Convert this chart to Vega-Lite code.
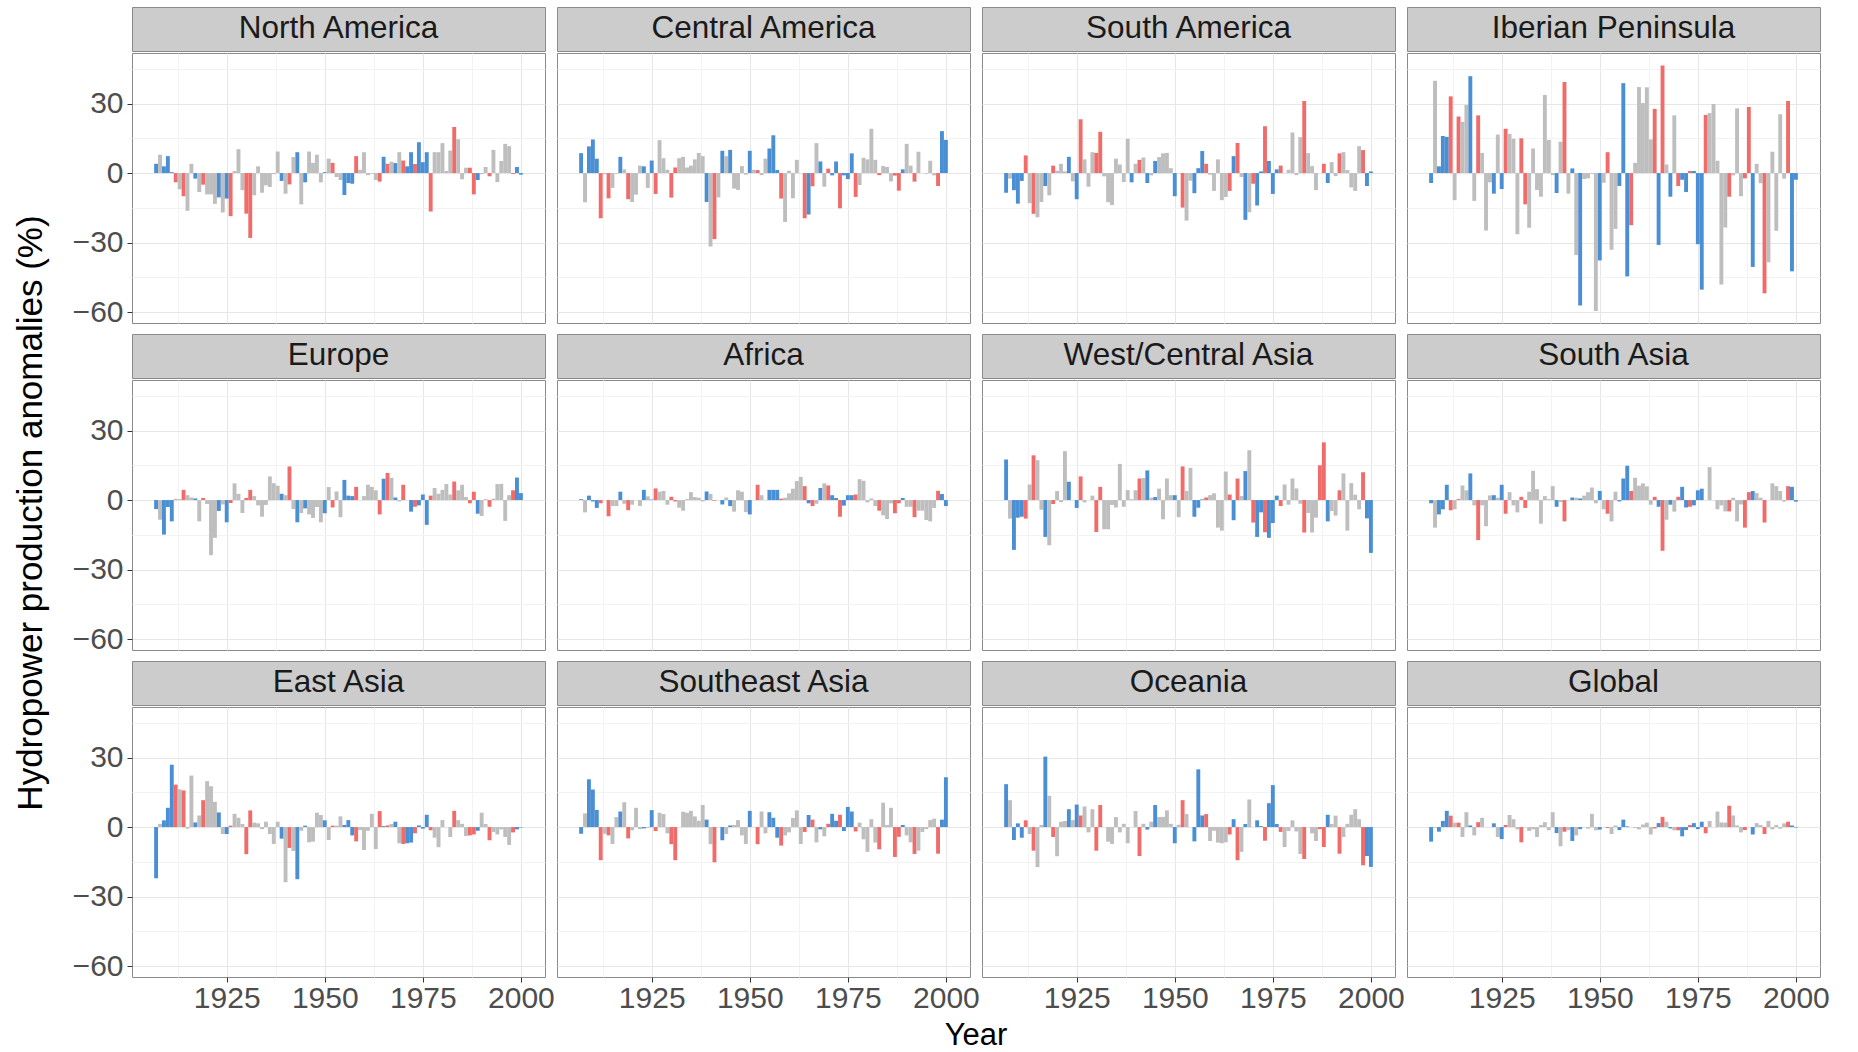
{
"$schema":"https://vega.github.io/schema/vega-lite/v6.json",
"padding":{"left":12,"top":6,"right":5,"bottom":0},
"background":"white",
"config":{
 "font":"Liberation Sans",
 "view":{"stroke":"#8a8a8a","strokeWidth":1},
 "bar":{"continuousBandSize":3.9},
 "axis":{"domain":false,"gridWidth":1,"tickColor":"#333333","tickSize":5,"tickWidth":1,"labelFont":"Liberation Sans","labelFontSize":30,"labelColor":"#4d4d4d","labelPadding":4,"titleFont":"Liberation Sans","titleFontSize":35,"titleFontWeight":"normal","titleColor":"#000000"},
 "axisX":{"labelPadding":1}
},
"datasets":{
"enso":[
{"year":1907,"phase":"La Niña"},{"year":1909,"phase":"La Niña"},{"year":1910,"phase":"La Niña"},{"year":1911,"phase":"La Niña"},{"year":1917,"phase":"La Niña"},{"year":1923,"phase":"La Niña"},{"year":1925,"phase":"La Niña"},{"year":1939,"phase":"La Niña"},{"year":1943,"phase":"La Niña"},{"year":1945,"phase":"La Niña"},{"year":1950,"phase":"La Niña"},{"year":1955,"phase":"La Niña"},{"year":1956,"phase":"La Niña"},{"year":1957,"phase":"La Niña"},{"year":1965,"phase":"La Niña"},{"year":1968,"phase":"La Niña"},{"year":1971,"phase":"La Niña"},{"year":1972,"phase":"La Niña"},{"year":1974,"phase":"La Niña"},{"year":1975,"phase":"La Niña"},{"year":1976,"phase":"La Niña"},{"year":1989,"phase":"La Niña"},{"year":1999,"phase":"La Niña"},{"year":2000,"phase":"La Niña"},
{"year":1912,"phase":"El Niño"},{"year":1914,"phase":"El Niño"},{"year":1919,"phase":"El Niño"},{"year":1926,"phase":"El Niño"},{"year":1930,"phase":"El Niño"},{"year":1931,"phase":"El Niño"},{"year":1941,"phase":"El Niño"},{"year":1952,"phase":"El Niño"},{"year":1958,"phase":"El Niño"},{"year":1964,"phase":"El Niño"},{"year":1966,"phase":"El Niño"},{"year":1970,"phase":"El Niño"},{"year":1973,"phase":"El Niño"},{"year":1977,"phase":"El Niño"},{"year":1983,"phase":"El Niño"},{"year":1987,"phase":"El Niño"},{"year":1988,"phase":"El Niño"},{"year":1992,"phase":"El Niño"},{"year":1998,"phase":"El Niño"}
],
"NA":[
{"year":1907,"value":4.0},{"year":1908,"value":7.9},{"year":1909,"value":2.9},{"year":1910,"value":7.3},{"year":1911,"value":0.4},{"year":1912,"value":-4.0},{"year":1913,"value":-7.0},{"year":1914,"value":-10.0},{"year":1915,"value":-16.3},{"year":1916,"value":4.0},
{"year":1917,"value":-2.4},{"year":1918,"value":-8.2},{"year":1919,"value":-5.0},{"year":1920,"value":-9.2},{"year":1921,"value":-9.2},{"year":1922,"value":-13.3},{"year":1923,"value":-10.5},{"year":1924,"value":-17.0},{"year":1925,"value":-11.0},{"year":1926,"value":-18.6},
{"year":1927,"value":0.9},{"year":1928,"value":10.3},{"year":1929,"value":-7.4},{"year":1930,"value":-17.5},{"year":1931,"value":-28.0},{"year":1932,"value":-9.6},{"year":1933,"value":2.9},{"year":1934,"value":-8.5},{"year":1935,"value":-5.3},{"year":1936,"value":-6.0},
{"year":1937,"value":-0.5},{"year":1938,"value":9.3},{"year":1939,"value":-3.4},{"year":1940,"value":-8.9},{"year":1941,"value":-4.9},{"year":1942,"value":6.9},{"year":1943,"value":9.0},{"year":1944,"value":-13.5},{"year":1945,"value":-4.0},{"year":1946,"value":9.3},
{"year":1947,"value":4.4},{"year":1948,"value":7.9},{"year":1949,"value":-4.0},{"year":1950,"value":0.4},{"year":1951,"value":6.2},{"year":1952,"value":4.4},{"year":1953,"value":-1.7},{"year":1954,"value":-3.0},{"year":1955,"value":-9.5},{"year":1956,"value":-4.3},
{"year":1957,"value":-4.6},{"year":1958,"value":7.3},{"year":1959,"value":1.4},{"year":1960,"value":9.0},{"year":1961,"value":-0.9},{"year":1962,"value":-0.3},{"year":1963,"value":-3.0},{"year":1964,"value":-3.7},{"year":1965,"value":7.0},{"year":1966,"value":4.0},
{"year":1967,"value":4.9},{"year":1968,"value":4.3},{"year":1969,"value":9.0},{"year":1970,"value":5.4},{"year":1971,"value":2.9},{"year":1972,"value":9.0},{"year":1973,"value":3.9},{"year":1974,"value":13.3},{"year":1975,"value":4.7},{"year":1976,"value":9.0},
{"year":1977,"value":-16.6},{"year":1978,"value":9.0},{"year":1979,"value":9.0},{"year":1980,"value":12.9},{"year":1981,"value":0.9},{"year":1982,"value":9.7},{"year":1983,"value":19.9},{"year":1984,"value":14.6},{"year":1985,"value":-2.7},{"year":1986,"value":2.3},
{"year":1987,"value":2.3},{"year":1988,"value":-9.2},{"year":1989,"value":-3.0},{"year":1990,"value":-0.5},{"year":1991,"value":2.6},{"year":1992,"value":-1.4},{"year":1993,"value":10.0},{"year":1994,"value":-3.9},{"year":1995,"value":5.2},{"year":1996,"value":12.6},
{"year":1997,"value":11.6},{"year":1998,"value":-0.4},{"year":1999,"value":2.6},{"year":2000,"value":-0.7}
],
"CA":[
{"year":1907,"value":8.6},{"year":1908,"value":-12.6},{"year":1909,"value":11.5},{"year":1910,"value":14.5},{"year":1911,"value":6.2},{"year":1912,"value":-19.5},{"year":1913,"value":-0.5},{"year":1914,"value":-10.9},{"year":1915,"value":-6.4},{"year":1916,"value":-0.3},
{"year":1917,"value":7.0},{"year":1918,"value":1.6},{"year":1919,"value":-11.3},{"year":1920,"value":-12.5},{"year":1921,"value":-9.3},{"year":1922,"value":3.2},{"year":1923,"value":2.9},{"year":1924,"value":-6.4},{"year":1925,"value":5.4},{"year":1926,"value":-9.0},
{"year":1927,"value":14.2},{"year":1928,"value":6.4},{"year":1929,"value":1.4},{"year":1930,"value":-10.6},{"year":1931,"value":2.4},{"year":1932,"value":6.4},{"year":1933,"value":7.0},{"year":1934,"value":2.4},{"year":1935,"value":3.2},{"year":1936,"value":5.9},
{"year":1937,"value":8.7},{"year":1938,"value":7.3},{"year":1939,"value":-12.5},{"year":1940,"value":-31.7},{"year":1941,"value":-28.5},{"year":1942,"value":-10.5},{"year":1943,"value":9.6},{"year":1944,"value":7.3},{"year":1945,"value":10.0},{"year":1946,"value":-6.7},
{"year":1947,"value":-7.3},{"year":1948,"value":3.0},{"year":1949,"value":-0.7},{"year":1950,"value":9.6},{"year":1951,"value":1.4},{"year":1952,"value":1.3},{"year":1953,"value":-0.9},{"year":1954,"value":6.2},{"year":1955,"value":10.6},{"year":1956,"value":16.3},
{"year":1957,"value":1.3},{"year":1958,"value":-11.0},{"year":1959,"value":-21.1},{"year":1960,"value":1.0},{"year":1961,"value":-10.9},{"year":1962,"value":5.7},{"year":1963,"value":0.0},{"year":1964,"value":-19.5},{"year":1965,"value":-17.9},{"year":1966,"value":-5.7},
{"year":1967,"value":12.9},{"year":1968,"value":5.0},{"year":1969,"value":-5.9},{"year":1970,"value":1.9},{"year":1971,"value":-1.0},{"year":1972,"value":5.0},{"year":1973,"value":-15.2},{"year":1974,"value":-1.0},{"year":1975,"value":-2.6},{"year":1976,"value":8.5},
{"year":1977,"value":-10.3},{"year":1978,"value":-5.2},{"year":1979,"value":6.6},{"year":1980,"value":5.9},{"year":1981,"value":19.1},{"year":1982,"value":5.7},{"year":1983,"value":-0.9},{"year":1984,"value":3.0},{"year":1985,"value":2.6},{"year":1986,"value":-3.6},
{"year":1987,"value":-1.1},{"year":1988,"value":-7.6},{"year":1989,"value":1.6},{"year":1990,"value":12.6},{"year":1991,"value":3.2},{"year":1992,"value":-3.7},{"year":1993,"value":9.2},{"year":1994,"value":0.0},{"year":1995,"value":-0.3},{"year":1996,"value":5.3},
{"year":1997,"value":-1.0},{"year":1998,"value":-5.6},{"year":1999,"value":18.1},{"year":2000,"value":14.3}
],
"SA":[
{"year":1907,"value":-8.5},{"year":1908,"value":-2.4},{"year":1909,"value":-7.4},{"year":1910,"value":-13.2},{"year":1911,"value":-3.4},{"year":1912,"value":7.6},{"year":1913,"value":-13.0},{"year":1914,"value":-17.6},{"year":1915,"value":-19.1},{"year":1916,"value":-12.5},
{"year":1917,"value":-5.6},{"year":1918,"value":-9.6},{"year":1919,"value":3.2},{"year":1920,"value":1.0},{"year":1921,"value":4.0},{"year":1922,"value":0.7},{"year":1923,"value":7.0},{"year":1924,"value":-3.6},{"year":1925,"value":-11.3},{"year":1926,"value":23.2},
{"year":1927,"value":5.9},{"year":1928,"value":-5.9},{"year":1929,"value":9.0},{"year":1930,"value":8.7},{"year":1931,"value":17.8},{"year":1932,"value":-1.4},{"year":1933,"value":-12.6},{"year":1934,"value":-13.8},{"year":1935,"value":6.2},{"year":1936,"value":3.7},
{"year":1937,"value":-3.9},{"year":1938,"value":14.8},{"year":1939,"value":-4.0},{"year":1940,"value":4.0},{"year":1941,"value":5.7},{"year":1942,"value":6.7},{"year":1943,"value":-4.3},{"year":1944,"value":-1.0},{"year":1945,"value":5.2},{"year":1946,"value":6.9},
{"year":1947,"value":8.5},{"year":1948,"value":8.7},{"year":1949,"value":2.1},{"year":1950,"value":-10.0},{"year":1951,"value":0.0},{"year":1952,"value":-14.9},{"year":1953,"value":-20.5},{"year":1954,"value":-3.3},{"year":1955,"value":-8.7},{"year":1956,"value":2.1},
{"year":1957,"value":9.5},{"year":1958,"value":4.0},{"year":1959,"value":-0.7},{"year":1960,"value":-7.7},{"year":1961,"value":5.9},{"year":1962,"value":-11.7},{"year":1963,"value":-10.3},{"year":1964,"value":-7.7},{"year":1965,"value":7.3},{"year":1966,"value":13.0},
{"year":1967,"value":-1.7},{"year":1968,"value":-20.2},{"year":1969,"value":-16.9},{"year":1970,"value":-4.6},{"year":1971,"value":-14.0},{"year":1972,"value":0.7},{"year":1973,"value":20.2},{"year":1974,"value":5.2},{"year":1975,"value":-9.0},{"year":1976,"value":1.6},
{"year":1977,"value":3.2},{"year":1978,"value":0.0},{"year":1979,"value":1.4},{"year":1980,"value":17.5},{"year":1981,"value":-0.9},{"year":1982,"value":15.5},{"year":1983,"value":31.1},{"year":1984,"value":8.6},{"year":1985,"value":3.0},{"year":1986,"value":-7.4},
{"year":1987,"value":0.0},{"year":1988,"value":4.0},{"year":1989,"value":-4.3},{"year":1990,"value":4.7},{"year":1991,"value":-1.3},{"year":1992,"value":8.5},{"year":1993,"value":9.0},{"year":1994,"value":1.3},{"year":1995,"value":-6.2},{"year":1996,"value":-7.7},
{"year":1997,"value":11.6},{"year":1998,"value":9.9},{"year":1999,"value":-5.6},{"year":2000,"value":0.7}
],
"IP":[
{"year":1907,"value":-4.3},{"year":1908,"value":39.8},{"year":1909,"value":2.9},{"year":1910,"value":16.0},{"year":1911,"value":15.6},{"year":1912,"value":33.1},{"year":1913,"value":-11.7},{"year":1914,"value":24.4},{"year":1915,"value":22.1},{"year":1916,"value":29.4},
{"year":1917,"value":41.8},{"year":1918,"value":-12.0},{"year":1919,"value":24.9},{"year":1920,"value":8.7},{"year":1921,"value":-24.8},{"year":1922,"value":-4.0},{"year":1923,"value":-8.9},{"year":1924,"value":16.6},{"year":1925,"value":-6.9},{"year":1926,"value":19.1},
{"year":1927,"value":16.9},{"year":1928,"value":14.8},{"year":1929,"value":-26.4},{"year":1930,"value":15.0},{"year":1931,"value":-13.5},{"year":1932,"value":-23.6},{"year":1933,"value":10.6},{"year":1934,"value":-7.3},{"year":1935,"value":-10.2},{"year":1936,"value":33.7},
{"year":1937,"value":14.3},{"year":1938,"value":-0.9},{"year":1939,"value":-8.6},{"year":1940,"value":13.5},{"year":1941,"value":39.3},{"year":1942,"value":-8.9},{"year":1943,"value":2.0},{"year":1944,"value":-35.4},{"year":1945,"value":-57.2},{"year":1946,"value":-2.6},
{"year":1947,"value":-2.3},{"year":1948,"value":-0.3},{"year":1949,"value":-59.5},{"year":1950,"value":-37.7},{"year":1951,"value":-4.2},{"year":1952,"value":9.0},{"year":1953,"value":-33.1},{"year":1954,"value":-24.1},{"year":1955,"value":-5.6},{"year":1956,"value":38.8},
{"year":1957,"value":-44.6},{"year":1958,"value":-22.5},{"year":1959,"value":4.4},{"year":1960,"value":37.1},{"year":1961,"value":30.2},{"year":1962,"value":37.0},{"year":1963,"value":14.5},{"year":1964,"value":27.7},{"year":1965,"value":-31.0},{"year":1966,"value":46.4},
{"year":1967,"value":3.7},{"year":1968,"value":-10.2},{"year":1969,"value":24.9},{"year":1970,"value":-5.6},{"year":1971,"value":-2.9},{"year":1972,"value":-8.2},{"year":1973,"value":0.9},{"year":1974,"value":0.9},{"year":1975,"value":-30.7},{"year":1976,"value":-50.3},
{"year":1977,"value":25.1},{"year":1978,"value":25.9},{"year":1979,"value":29.8},{"year":1980,"value":5.3},{"year":1981,"value":-48.1},{"year":1982,"value":-23.5},{"year":1983,"value":-10.2},{"year":1984,"value":-1.0},{"year":1985,"value":27.9},{"year":1986,"value":-10.0},
{"year":1987,"value":-2.3},{"year":1988,"value":28.5},{"year":1989,"value":-40.5},{"year":1990,"value":4.0},{"year":1991,"value":-4.4},{"year":1992,"value":-51.9},{"year":1993,"value":-38.5},{"year":1994,"value":9.2},{"year":1995,"value":-24.9},{"year":1996,"value":25.4},
{"year":1997,"value":-2.4},{"year":1998,"value":31.1},{"year":1999,"value":-42.4},{"year":2000,"value":-2.9}
],
"EU":[
{"year":1907,"value":-3.9},{"year":1908,"value":-8.5},{"year":1909,"value":-14.9},{"year":1910,"value":-3.0},{"year":1911,"value":-9.2},{"year":1912,"value":0.3},{"year":1913,"value":0.4},{"year":1914,"value":4.4},{"year":1915,"value":2.1},{"year":1916,"value":1.1},
{"year":1917,"value":0.7},{"year":1918,"value":-9.2},{"year":1919,"value":0.9},{"year":1920,"value":-1.7},{"year":1921,"value":-23.8},{"year":1922,"value":-16.3},{"year":1923,"value":-4.7},{"year":1924,"value":-1.9},{"year":1925,"value":-9.6},{"year":1926,"value":-1.3},
{"year":1927,"value":7.2},{"year":1928,"value":2.7},{"year":1929,"value":-5.6},{"year":1930,"value":0.9},{"year":1931,"value":4.4},{"year":1932,"value":1.7},{"year":1933,"value":-2.3},{"year":1934,"value":-7.2},{"year":1935,"value":-2.1},{"year":1936,"value":10.2},
{"year":1937,"value":7.3},{"year":1938,"value":6.2},{"year":1939,"value":2.7},{"year":1940,"value":2.1},{"year":1941,"value":14.5},{"year":1942,"value":-3.9},{"year":1943,"value":-9.6},{"year":1944,"value":-5.6},{"year":1945,"value":-3.6},{"year":1946,"value":-6.2},
{"year":1947,"value":-7.7},{"year":1948,"value":-3.0},{"year":1949,"value":-9.6},{"year":1950,"value":-5.7},{"year":1951,"value":5.6},{"year":1952,"value":-3.2},{"year":1953,"value":3.7},{"year":1954,"value":-7.4},{"year":1955,"value":8.7},{"year":1956,"value":1.9},
{"year":1957,"value":1.7},{"year":1958,"value":5.7},{"year":1959,"value":0.0},{"year":1960,"value":1.7},{"year":1961,"value":6.6},{"year":1962,"value":5.7},{"year":1963,"value":4.2},{"year":1964,"value":-6.2},{"year":1965,"value":9.2},{"year":1966,"value":11.7},
{"year":1967,"value":9.6},{"year":1968,"value":1.1},{"year":1969,"value":-0.6},{"year":1970,"value":6.6},{"year":1971,"value":0.0},{"year":1972,"value":-5.0},{"year":1973,"value":-2.9},{"year":1974,"value":-2.3},{"year":1975,"value":2.4},{"year":1976,"value":-10.7},
{"year":1977,"value":1.9},{"year":1978,"value":5.2},{"year":1979,"value":2.7},{"year":1980,"value":4.4},{"year":1981,"value":6.9},{"year":1982,"value":2.4},{"year":1983,"value":8.0},{"year":1984,"value":4.2},{"year":1985,"value":6.6},{"year":1986,"value":1.3},
{"year":1987,"value":-1.4},{"year":1988,"value":3.6},{"year":1989,"value":-5.9},{"year":1990,"value":-6.9},{"year":1991,"value":0.4},{"year":1992,"value":-2.9},{"year":1993,"value":0.6},{"year":1994,"value":6.9},{"year":1995,"value":7.0},{"year":1996,"value":-9.0},
{"year":1997,"value":2.1},{"year":1998,"value":4.2},{"year":1999,"value":9.7},{"year":2000,"value":3.0}
],
"AF":[
{"year":1907,"value":0.4},{"year":1908,"value":-5.3},{"year":1909,"value":1.9},{"year":1910,"value":-0.6},{"year":1911,"value":-3.4},{"year":1912,"value":-1.4},{"year":1913,"value":0.0},{"year":1914,"value":-7.0},{"year":1915,"value":-2.6},{"year":1916,"value":-2.6},
{"year":1917,"value":3.6},{"year":1918,"value":-1.6},{"year":1919,"value":-4.4},{"year":1920,"value":-2.0},{"year":1921,"value":0.0},{"year":1922,"value":-2.6},{"year":1923,"value":4.4},{"year":1924,"value":1.6},{"year":1925,"value":0.2},{"year":1926,"value":5.0},
{"year":1927,"value":3.6},{"year":1928,"value":3.9},{"year":1929,"value":-2.0},{"year":1930,"value":1.4},{"year":1931,"value":-0.6},{"year":1932,"value":-3.3},{"year":1933,"value":-4.6},{"year":1934,"value":0.4},{"year":1935,"value":3.4},{"year":1936,"value":1.3},
{"year":1937,"value":1.0},{"year":1938,"value":-0.6},{"year":1939,"value":3.7},{"year":1940,"value":2.6},{"year":1941,"value":-0.3},{"year":1942,"value":0.0},{"year":1943,"value":-1.9},{"year":1944,"value":1.1},{"year":1945,"value":-2.6},{"year":1946,"value":-5.0},
{"year":1947,"value":4.2},{"year":1948,"value":3.6},{"year":1949,"value":-5.2},{"year":1950,"value":-6.2},{"year":1951,"value":0.0},{"year":1952,"value":6.6},{"year":1953,"value":2.1},{"year":1954,"value":0.0},{"year":1955,"value":4.4},{"year":1956,"value":4.4},
{"year":1957,"value":4.4},{"year":1958,"value":0.6},{"year":1959,"value":1.0},{"year":1960,"value":2.9},{"year":1961,"value":4.9},{"year":1962,"value":8.2},{"year":1963,"value":10.0},{"year":1964,"value":6.0},{"year":1965,"value":-1.4},{"year":1966,"value":-2.6},
{"year":1967,"value":-1.6},{"year":1968,"value":5.2},{"year":1969,"value":7.2},{"year":1970,"value":6.3},{"year":1971,"value":2.1},{"year":1972,"value":0.9},{"year":1973,"value":-7.2},{"year":1974,"value":-2.4},{"year":1975,"value":2.1},{"year":1976,"value":2.1},
{"year":1977,"value":2.4},{"year":1978,"value":9.0},{"year":1979,"value":8.3},{"year":1980,"value":-1.0},{"year":1981,"value":0.7},{"year":1982,"value":-2.6},{"year":1983,"value":-4.6},{"year":1984,"value":-6.6},{"year":1985,"value":-8.2},{"year":1986,"value":-1.4},
{"year":1987,"value":-5.7},{"year":1988,"value":-1.4},{"year":1989,"value":0.9},{"year":1990,"value":-2.9},{"year":1991,"value":-2.9},{"year":1992,"value":-7.4},{"year":1993,"value":-4.6},{"year":1994,"value":-4.6},{"year":1995,"value":-8.6},{"year":1996,"value":-9.2},
{"year":1997,"value":-3.4},{"year":1998,"value":4.0},{"year":1999,"value":2.6},{"year":2000,"value":-2.6}
],
"WCA":[
{"year":1907,"value":17.5},{"year":1908,"value":-8.0},{"year":1909,"value":-21.5},{"year":1910,"value":-7.6},{"year":1911,"value":-7.2},{"year":1912,"value":-8.0},{"year":1913,"value":6.7},{"year":1914,"value":19.3},{"year":1915,"value":17.2},{"year":1916,"value":-4.2},
{"year":1917,"value":-15.9},{"year":1918,"value":-19.5},{"year":1919,"value":-1.7},{"year":1920,"value":3.9},{"year":1921,"value":-0.9},{"year":1922,"value":21.1},{"year":1923,"value":7.9},{"year":1924,"value":0.0},{"year":1925,"value":-3.4},{"year":1926,"value":10.2},
{"year":1927,"value":-1.0},{"year":1928,"value":0.0},{"year":1929,"value":1.9},{"year":1930,"value":-13.8},{"year":1931,"value":5.7},{"year":1932,"value":-12.6},{"year":1933,"value":-12.6},{"year":1934,"value":-2.1},{"year":1935,"value":-3.2},{"year":1936,"value":15.6},
{"year":1937,"value":-2.9},{"year":1938,"value":4.3},{"year":1939,"value":0.2},{"year":1940,"value":4.2},{"year":1941,"value":9.3},{"year":1942,"value":9.5},{"year":1943,"value":12.8},{"year":1944,"value":1.0},{"year":1945,"value":1.3},{"year":1946,"value":4.9},
{"year":1947,"value":-8.3},{"year":1948,"value":9.3},{"year":1949,"value":2.1},{"year":1950,"value":2.1},{"year":1951,"value":-7.4},{"year":1952,"value":14.5},{"year":1953,"value":3.9},{"year":1954,"value":13.9},{"year":1955,"value":-7.2},{"year":1956,"value":-3.3},
{"year":1957,"value":0.3},{"year":1958,"value":1.1},{"year":1959,"value":2.1},{"year":1960,"value":2.9},{"year":1961,"value":-11.9},{"year":1962,"value":-13.2},{"year":1963,"value":12.3},{"year":1964,"value":2.4},{"year":1965,"value":-8.7},{"year":1966,"value":9.3},
{"year":1967,"value":1.7},{"year":1968,"value":12.5},{"year":1969,"value":21.5},{"year":1970,"value":-9.7},{"year":1971,"value":-15.9},{"year":1972,"value":-5.3},{"year":1973,"value":-13.9},{"year":1974,"value":-16.3},{"year":1975,"value":-9.9},{"year":1976,"value":1.9},
{"year":1977,"value":-2.6},{"year":1978,"value":6.7},{"year":1979,"value":-2.0},{"year":1980,"value":9.3},{"year":1981,"value":5.0},{"year":1982,"value":-1.6},{"year":1983,"value":-14.0},{"year":1984,"value":-5.6},{"year":1985,"value":-14.0},{"year":1986,"value":-7.6},
{"year":1987,"value":15.0},{"year":1988,"value":24.9},{"year":1989,"value":-9.2},{"year":1990,"value":-4.7},{"year":1991,"value":-6.7},{"year":1992,"value":4.2},{"year":1993,"value":11.5},{"year":1994,"value":-13.2},{"year":1995,"value":7.3},{"year":1996,"value":2.3},
{"year":1997,"value":-4.0},{"year":1998,"value":12.0},{"year":1999,"value":-7.9},{"year":2000,"value":-22.8}
],
"SAS":[
{"year":1907,"value":-1.4},{"year":1908,"value":-11.9},{"year":1909,"value":-6.2},{"year":1910,"value":-4.0},{"year":1911,"value":6.6},{"year":1912,"value":-4.4},{"year":1913,"value":-4.0},{"year":1914,"value":0.4},{"year":1915,"value":6.3},{"year":1916,"value":4.2},
{"year":1917,"value":11.5},{"year":1918,"value":-2.3},{"year":1919,"value":-17.3},{"year":1920,"value":-2.3},{"year":1921,"value":-11.3},{"year":1922,"value":2.0},{"year":1923,"value":2.1},{"year":1924,"value":1.0},{"year":1925,"value":6.6},{"year":1926,"value":-5.9},
{"year":1927,"value":3.4},{"year":1928,"value":-2.3},{"year":1929,"value":-5.3},{"year":1930,"value":1.4},{"year":1931,"value":-3.4},{"year":1932,"value":3.6},{"year":1933,"value":12.6},{"year":1934,"value":4.7},{"year":1935,"value":-10.2},{"year":1936,"value":1.7},
{"year":1937,"value":0.4},{"year":1938,"value":6.0},{"year":1939,"value":-2.9},{"year":1940,"value":-0.9},{"year":1941,"value":-9.2},{"year":1942,"value":0.0},{"year":1943,"value":1.1},{"year":1944,"value":1.0},{"year":1945,"value":0.7},{"year":1946,"value":1.9},
{"year":1947,"value":3.4},{"year":1948,"value":5.4},{"year":1949,"value":-1.4},{"year":1950,"value":3.9},{"year":1951,"value":-4.0},{"year":1952,"value":-5.9},{"year":1953,"value":-9.2},{"year":1954,"value":3.6},{"year":1955,"value":-0.6},{"year":1956,"value":9.3},
{"year":1957,"value":14.8},{"year":1958,"value":3.9},{"year":1959,"value":9.6},{"year":1960,"value":6.2},{"year":1961,"value":7.2},{"year":1962,"value":5.9},{"year":1963,"value":-2.0},{"year":1964,"value":1.4},{"year":1965,"value":-2.9},{"year":1966,"value":-21.9},
{"year":1967,"value":-8.5},{"year":1968,"value":-2.0},{"year":1969,"value":-5.0},{"year":1970,"value":1.4},{"year":1971,"value":5.7},{"year":1972,"value":-3.2},{"year":1973,"value":-2.9},{"year":1974,"value":-2.3},{"year":1975,"value":4.2},{"year":1976,"value":4.9},
{"year":1977,"value":0.0},{"year":1978,"value":14.2},{"year":1979,"value":0.0},{"year":1980,"value":-4.0},{"year":1981,"value":-2.3},{"year":1982,"value":-4.9},{"year":1983,"value":-4.9},{"year":1984,"value":1.0},{"year":1985,"value":-9.2},{"year":1986,"value":-1.9},
{"year":1987,"value":-11.9},{"year":1988,"value":3.4},{"year":1989,"value":3.9},{"year":1990,"value":3.0},{"year":1991,"value":1.0},{"year":1992,"value":-9.7},{"year":1993,"value":0.0},{"year":1994,"value":7.2},{"year":1995,"value":6.0},{"year":1996,"value":3.9},
{"year":1997,"value":-0.7},{"year":1998,"value":6.0},{"year":1999,"value":5.7},{"year":2000,"value":-0.7}
],
"EA":[
{"year":1907,"value":-22.1},{"year":1908,"value":1.4},{"year":1909,"value":2.9},{"year":1910,"value":8.3},{"year":1911,"value":26.9},{"year":1912,"value":18.3},{"year":1913,"value":16.3},{"year":1914,"value":15.8},{"year":1915,"value":-0.7},{"year":1916,"value":22.2},
{"year":1917,"value":2.0},{"year":1918,"value":5.0},{"year":1919,"value":11.6},{"year":1920,"value":19.8},{"year":1921,"value":17.6},{"year":1922,"value":10.9},{"year":1923,"value":6.3},{"year":1924,"value":-3.0},{"year":1925,"value":-3.0},{"year":1926,"value":0.6},
{"year":1927,"value":5.7},{"year":1928,"value":4.0},{"year":1929,"value":1.3},{"year":1930,"value":-11.7},{"year":1931,"value":7.2},{"year":1932,"value":1.9},{"year":1933,"value":1.6},{"year":1934,"value":-0.9},{"year":1935,"value":2.3},{"year":1936,"value":-3.0},
{"year":1937,"value":-7.3},{"year":1938,"value":2.3},{"year":1939,"value":-5.0},{"year":1940,"value":-23.8},{"year":1941,"value":-9.0},{"year":1942,"value":-10.3},{"year":1943,"value":-22.5},{"year":1944,"value":-1.6},{"year":1945,"value":0.6},{"year":1946,"value":-6.6},
{"year":1947,"value":-6.3},{"year":1948,"value":6.2},{"year":1949,"value":5.2},{"year":1950,"value":2.9},{"year":1951,"value":-5.6},{"year":1952,"value":0.6},{"year":1953,"value":0.6},{"year":1954,"value":4.6},{"year":1955,"value":0.9},{"year":1956,"value":3.0},
{"year":1957,"value":-3.6},{"year":1958,"value":-6.2},{"year":1959,"value":-1.3},{"year":1960,"value":-9.9},{"year":1961,"value":-1.6},{"year":1962,"value":5.7},{"year":1963,"value":-9.5},{"year":1964,"value":6.9},{"year":1965,"value":0.4},{"year":1966,"value":0.7},
{"year":1967,"value":1.3},{"year":1968,"value":2.3},{"year":1969,"value":-7.0},{"year":1970,"value":-7.3},{"year":1971,"value":-7.0},{"year":1972,"value":-6.7},{"year":1973,"value":-2.7},{"year":1974,"value":0.7},{"year":1975,"value":-0.7},{"year":1976,"value":5.3},
{"year":1977,"value":-1.4},{"year":1978,"value":-4.6},{"year":1979,"value":-8.7},{"year":1980,"value":3.0},{"year":1981,"value":0.0},{"year":1982,"value":-4.3},{"year":1983,"value":7.0},{"year":1984,"value":3.0},{"year":1985,"value":1.4},{"year":1986,"value":-3.9},
{"year":1987,"value":-3.6},{"year":1988,"value":-3.2},{"year":1989,"value":-1.6},{"year":1990,"value":6.2},{"year":1991,"value":1.3},{"year":1992,"value":-5.7},{"year":1993,"value":-2.1},{"year":1994,"value":-3.2},{"year":1995,"value":-1.0},{"year":1996,"value":-4.3},
{"year":1997,"value":-7.7},{"year":1998,"value":-2.3},{"year":1999,"value":-1.0},{"year":2000,"value":-0.2}
],
"SEA":[
{"year":1907,"value":-2.9},{"year":1908,"value":5.9},{"year":1909,"value":20.6},{"year":1910,"value":16.2},{"year":1911,"value":7.4},{"year":1912,"value":-14.3},{"year":1913,"value":-2.9},{"year":1914,"value":-3.6},{"year":1915,"value":-7.3},{"year":1916,"value":4.3},
{"year":1917,"value":6.7},{"year":1918,"value":10.7},{"year":1919,"value":-4.9},{"year":1920,"value":-1.4},{"year":1921,"value":8.3},{"year":1922,"value":-0.9},{"year":1923,"value":-0.6},{"year":1924,"value":-0.4},{"year":1925,"value":7.3},{"year":1926,"value":-1.7},
{"year":1927,"value":6.2},{"year":1928,"value":5.6},{"year":1929,"value":-2.7},{"year":1930,"value":-7.4},{"year":1931,"value":-14.3},{"year":1932,"value":0.0},{"year":1933,"value":6.6},{"year":1934,"value":6.2},{"year":1935,"value":7.0},{"year":1936,"value":4.6},
{"year":1937,"value":2.7},{"year":1938,"value":9.5},{"year":1939,"value":3.2},{"year":1940,"value":-7.4},{"year":1941,"value":-15.2},{"year":1942,"value":0.0},{"year":1943,"value":-5.7},{"year":1944,"value":-3.0},{"year":1945,"value":0.7},{"year":1946,"value":0.9},
{"year":1947,"value":3.0},{"year":1948,"value":-3.6},{"year":1949,"value":-7.3},{"year":1950,"value":7.0},{"year":1951,"value":0.0},{"year":1952,"value":-7.4},{"year":1953,"value":6.7},{"year":1954,"value":-2.7},{"year":1955,"value":6.4},{"year":1956,"value":4.0},
{"year":1957,"value":-4.6},{"year":1958,"value":-8.0},{"year":1959,"value":-3.6},{"year":1960,"value":-2.3},{"year":1961,"value":3.9},{"year":1962,"value":7.2},{"year":1963,"value":-7.3},{"year":1964,"value":-2.1},{"year":1965,"value":5.2},{"year":1966,"value":3.2},
{"year":1967,"value":-6.6},{"year":1968,"value":-1.0},{"year":1969,"value":-4.0},{"year":1970,"value":1.4},{"year":1971,"value":5.7},{"year":1972,"value":2.7},{"year":1973,"value":5.3},{"year":1974,"value":-1.7},{"year":1975,"value":8.7},{"year":1976,"value":6.7},
{"year":1977,"value":-1.9},{"year":1978,"value":1.9},{"year":1979,"value":-5.3},{"year":1980,"value":-10.7},{"year":1981,"value":3.4},{"year":1982,"value":-6.7},{"year":1983,"value":-9.6},{"year":1984,"value":10.5},{"year":1985,"value":0.9},{"year":1986,"value":8.3},
{"year":1987,"value":-12.9},{"year":1988,"value":-4.2},{"year":1989,"value":0.9},{"year":1990,"value":-3.6},{"year":1991,"value":-6.6},{"year":1992,"value":-11.6},{"year":1993,"value":-10.2},{"year":1994,"value":-2.1},{"year":1995,"value":-0.9},{"year":1996,"value":3.0},
{"year":1997,"value":3.6},{"year":1998,"value":-11.5},{"year":1999,"value":3.2},{"year":2000,"value":21.5}
],
"OC":[
{"year":1907,"value":18.5},{"year":1908,"value":11.6},{"year":1909,"value":-5.6},{"year":1910,"value":1.6},{"year":1911,"value":-4.6},{"year":1912,"value":2.9},{"year":1913,"value":-3.0},{"year":1914,"value":-10.2},{"year":1915,"value":-17.3},{"year":1916,"value":0.9},
{"year":1917,"value":30.4},{"year":1918,"value":13.5},{"year":1919,"value":-4.3},{"year":1920,"value":-12.6},{"year":1921,"value":2.3},{"year":1922,"value":2.6},{"year":1923,"value":7.7},{"year":1924,"value":3.0},{"year":1925,"value":9.7},{"year":1926,"value":5.0},
{"year":1927,"value":8.9},{"year":1928,"value":-2.3},{"year":1929,"value":7.7},{"year":1930,"value":-10.2},{"year":1931,"value":9.5},{"year":1932,"value":0.0},{"year":1933,"value":-6.3},{"year":1934,"value":-7.3},{"year":1935,"value":4.3},{"year":1936,"value":-2.3},
{"year":1937,"value":1.4},{"year":1938,"value":-7.0},{"year":1939,"value":0.0},{"year":1940,"value":6.9},{"year":1941,"value":-12.5},{"year":1942,"value":1.4},{"year":1943,"value":-1.1},{"year":1944,"value":2.3},{"year":1945,"value":9.5},{"year":1946,"value":4.3},
{"year":1947,"value":4.4},{"year":1948,"value":7.2},{"year":1949,"value":1.4},{"year":1950,"value":-7.0},{"year":1951,"value":1.0},{"year":1952,"value":11.6},{"year":1953,"value":5.6},{"year":1954,"value":0.0},{"year":1955,"value":-6.2},{"year":1956,"value":24.9},
{"year":1957,"value":5.0},{"year":1958,"value":5.6},{"year":1959,"value":-6.0},{"year":1960,"value":-1.6},{"year":1961,"value":-6.7},{"year":1962,"value":-7.0},{"year":1963,"value":-6.6},{"year":1964,"value":-3.2},{"year":1965,"value":3.4},{"year":1966,"value":-14.3},
{"year":1967,"value":-10.7},{"year":1968,"value":1.3},{"year":1969,"value":11.9},{"year":1970,"value":0.0},{"year":1971,"value":2.9},{"year":1972,"value":0.4},{"year":1973,"value":-5.9},{"year":1974,"value":10.3},{"year":1975,"value":18.1},{"year":1976,"value":1.3},
{"year":1977,"value":-2.1},{"year":1978,"value":-8.6},{"year":1979,"value":-1.7},{"year":1980,"value":2.9},{"year":1981,"value":-1.9},{"year":1982,"value":-11.6},{"year":1983,"value":-13.8},{"year":1984,"value":0.0},{"year":1985,"value":-2.7},{"year":1986,"value":-6.0},
{"year":1987,"value":-0.9},{"year":1988,"value":-8.6},{"year":1989,"value":5.3},{"year":1990,"value":1.3},{"year":1991,"value":4.9},{"year":1992,"value":-11.5},{"year":1993,"value":-4.3},{"year":1994,"value":1.4},{"year":1995,"value":5.3},{"year":1996,"value":7.7},
{"year":1997,"value":3.4},{"year":1998,"value":-16.5},{"year":1999,"value":-12.5},{"year":2000,"value":-17.2}
],
"GL":[
{"year":1907,"value":-6.3},{"year":1908,"value":-0.3},{"year":1909,"value":-2.0},{"year":1910,"value":2.6},{"year":1911,"value":7.0},{"year":1912,"value":4.9},{"year":1913,"value":1.9},{"year":1914,"value":1.9},{"year":1915,"value":-4.3},{"year":1916,"value":6.4},
{"year":1917,"value":0.7},{"year":1918,"value":-3.6},{"year":1919,"value":2.1},{"year":1920,"value":4.0},{"year":1921,"value":0.0},{"year":1922,"value":0.0},{"year":1923,"value":1.6},{"year":1924,"value":-4.3},{"year":1925,"value":-5.2},{"year":1926,"value":0.9},
{"year":1927,"value":5.2},{"year":1928,"value":3.4},{"year":1929,"value":-1.0},{"year":1930,"value":-6.6},{"year":1931,"value":0.0},{"year":1932,"value":-1.7},{"year":1933,"value":-1.0},{"year":1934,"value":-4.3},{"year":1935,"value":0.9},{"year":1936,"value":2.1},
{"year":1937,"value":-1.4},{"year":1938,"value":6.4},{"year":1939,"value":-2.6},{"year":1940,"value":-8.3},{"year":1941,"value":-2.0},{"year":1942,"value":-1.3},{"year":1943,"value":-6.0},{"year":1944,"value":-3.6},{"year":1945,"value":-0.9},{"year":1946,"value":0.0},
{"year":1947,"value":-0.7},{"year":1948,"value":5.7},{"year":1949,"value":-1.4},{"year":1950,"value":-1.1},{"year":1951,"value":0.0},{"year":1952,"value":-0.4},{"year":1953,"value":-3.0},{"year":1954,"value":0.7},{"year":1955,"value":-1.3},{"year":1956,"value":3.2},
{"year":1957,"value":0.3},{"year":1958,"value":0.0},{"year":1959,"value":-0.4},{"year":1960,"value":-1.0},{"year":1961,"value":1.1},{"year":1962,"value":1.9},{"year":1963,"value":-3.2},{"year":1964,"value":-0.6},{"year":1965,"value":1.7},{"year":1966,"value":4.4},
{"year":1967,"value":2.3},{"year":1968,"value":-0.6},{"year":1969,"value":-1.4},{"year":1970,"value":-1.4},{"year":1971,"value":-4.0},{"year":1972,"value":-1.3},{"year":1973,"value":0.9},{"year":1974,"value":1.7},{"year":1975,"value":-0.9},{"year":1976,"value":2.3},
{"year":1977,"value":-2.7},{"year":1978,"value":2.6},{"year":1979,"value":0.0},{"year":1980,"value":6.7},{"year":1981,"value":2.0},{"year":1982,"value":1.9},{"year":1983,"value":9.2},{"year":1984,"value":5.0},{"year":1985,"value":0.7},{"year":1986,"value":-2.3},
{"year":1987,"value":-1.3},{"year":1988,"value":0.0},{"year":1989,"value":-3.2},{"year":1990,"value":1.7},{"year":1991,"value":0.9},{"year":1992,"value":-3.0},{"year":1993,"value":2.6},{"year":1994,"value":-1.0},{"year":1995,"value":0.9},{"year":1996,"value":-0.7},
{"year":1997,"value":1.6},{"year":1998,"value":2.3},{"year":1999,"value":0.7},{"year":2000,"value":-0.2}
]
},
"spacing":22,
"hconcat":[
{"width":37,"height":1012,"view":{"stroke":null},"data":{"values":[{"label":"Hydropower production anomalies (%)"}]},"mark":{"type":"text","angle":270,"fontSize":35,"font":"Liberation Sans","color":"#000000"},"encoding":{"text":{"field":"label"}}},
{"spacing":2,"vconcat":[
{"columns":4,"spacing":{"row":5,"column":1},"align":{"row":"each","column":"all"},
"concat":[
{"spacing":0,"vconcat":[
 {"width":413,"height":44,"view":{"fill":"#cccccc","stroke":"#8a8a8a"},"data":{"values":[{"region":"North America"}]},"mark":{"type":"text","fontSize":31.5,"font":"Liberation Sans","color":"#1a1a1a"},"encoding":{"text":{"field":"region"}}},
 {"width":413,"height":270,"data":{"name":"NA"},"transform":[{"lookup":"year","from":{"data":{"name":"enso"},"key":"year","fields":["phase"]},"default":"Neutral"}],"mark":"bar",
  "encoding":{
   "x":{"field":"year","type":"quantitative","scale":{"domain":[1901.85,2005.15],"nice":false,"zero":false},"axis":{"values":[1912.5,1925,1937.5,1950,1962.5,1975,1987.5,2000],"labels":false,"ticks":false,"title":null,"gridColor":{"condition":{"test":"datum.value % 25 != 0","value":"#f3f3f3"},"value":"#e6e6e6"}}},
   "y":{"field":"value","type":"quantitative","scale":{"domain":[-64.7,51.8],"nice":false,"zero":false},"axis":{"values":[-60,-45,-30,-15,0,15,30,45],"labelExpr":"datum.value % 30 == 0 ? datum.label : ''","labelOverlap":false,"tickOpacity":{"condition":{"test":"datum.value % 30 != 0","value":0},"value":1},"title":null,"gridColor":{"condition":{"test":"datum.value % 30 != 0","value":"#f3f3f3"},"value":"#e6e6e6"}}},
   "color":{"field":"phase","type":"nominal","scale":{"domain":["El Niño","La Niña","Neutral"],"range":["#f06c6a","#4a8fd4","#bebebe"]},"legend":null}}}
]},
{"spacing":0,"vconcat":[
 {"width":413,"height":44,"view":{"fill":"#cccccc","stroke":"#8a8a8a"},"data":{"values":[{"region":"Central America"}]},"mark":{"type":"text","fontSize":31.5,"font":"Liberation Sans","color":"#1a1a1a"},"encoding":{"text":{"field":"region"}}},
 {"width":413,"height":270,"data":{"name":"CA"},"transform":[{"lookup":"year","from":{"data":{"name":"enso"},"key":"year","fields":["phase"]},"default":"Neutral"}],"mark":"bar",
  "encoding":{
   "x":{"field":"year","type":"quantitative","scale":{"domain":[1901.85,2005.15],"nice":false,"zero":false},"axis":{"values":[1912.5,1925,1937.5,1950,1962.5,1975,1987.5,2000],"labels":false,"ticks":false,"title":null,"gridColor":{"condition":{"test":"datum.value % 25 != 0","value":"#f3f3f3"},"value":"#e6e6e6"}}},
   "y":{"field":"value","type":"quantitative","scale":{"domain":[-64.7,51.8],"nice":false,"zero":false},"axis":{"values":[-60,-45,-30,-15,0,15,30,45],"labels":false,"ticks":false,"title":null,"gridColor":{"condition":{"test":"datum.value % 30 != 0","value":"#f3f3f3"},"value":"#e6e6e6"}}},
   "color":{"field":"phase","type":"nominal","scale":{"domain":["El Niño","La Niña","Neutral"],"range":["#f06c6a","#4a8fd4","#bebebe"]},"legend":null}}}
]},
{"spacing":0,"vconcat":[
 {"width":413,"height":44,"view":{"fill":"#cccccc","stroke":"#8a8a8a"},"data":{"values":[{"region":"South America"}]},"mark":{"type":"text","fontSize":31.5,"font":"Liberation Sans","color":"#1a1a1a"},"encoding":{"text":{"field":"region"}}},
 {"width":413,"height":270,"data":{"name":"SA"},"transform":[{"lookup":"year","from":{"data":{"name":"enso"},"key":"year","fields":["phase"]},"default":"Neutral"}],"mark":"bar",
  "encoding":{
   "x":{"field":"year","type":"quantitative","scale":{"domain":[1901.85,2005.15],"nice":false,"zero":false},"axis":{"values":[1912.5,1925,1937.5,1950,1962.5,1975,1987.5,2000],"labels":false,"ticks":false,"title":null,"gridColor":{"condition":{"test":"datum.value % 25 != 0","value":"#f3f3f3"},"value":"#e6e6e6"}}},
   "y":{"field":"value","type":"quantitative","scale":{"domain":[-64.7,51.8],"nice":false,"zero":false},"axis":{"values":[-60,-45,-30,-15,0,15,30,45],"labels":false,"ticks":false,"title":null,"gridColor":{"condition":{"test":"datum.value % 30 != 0","value":"#f3f3f3"},"value":"#e6e6e6"}}},
   "color":{"field":"phase","type":"nominal","scale":{"domain":["El Niño","La Niña","Neutral"],"range":["#f06c6a","#4a8fd4","#bebebe"]},"legend":null}}}
]},
{"spacing":0,"vconcat":[
 {"width":413,"height":44,"view":{"fill":"#cccccc","stroke":"#8a8a8a"},"data":{"values":[{"region":"Iberian Peninsula"}]},"mark":{"type":"text","fontSize":31.5,"font":"Liberation Sans","color":"#1a1a1a"},"encoding":{"text":{"field":"region"}}},
 {"width":413,"height":270,"data":{"name":"IP"},"transform":[{"lookup":"year","from":{"data":{"name":"enso"},"key":"year","fields":["phase"]},"default":"Neutral"}],"mark":"bar",
  "encoding":{
   "x":{"field":"year","type":"quantitative","scale":{"domain":[1901.85,2005.15],"nice":false,"zero":false},"axis":{"values":[1912.5,1925,1937.5,1950,1962.5,1975,1987.5,2000],"labels":false,"ticks":false,"title":null,"gridColor":{"condition":{"test":"datum.value % 25 != 0","value":"#f3f3f3"},"value":"#e6e6e6"}}},
   "y":{"field":"value","type":"quantitative","scale":{"domain":[-64.7,51.8],"nice":false,"zero":false},"axis":{"values":[-60,-45,-30,-15,0,15,30,45],"labels":false,"ticks":false,"title":null,"gridColor":{"condition":{"test":"datum.value % 30 != 0","value":"#f3f3f3"},"value":"#e6e6e6"}}},
   "color":{"field":"phase","type":"nominal","scale":{"domain":["El Niño","La Niña","Neutral"],"range":["#f06c6a","#4a8fd4","#bebebe"]},"legend":null}}}
]},
{"spacing":0,"vconcat":[
 {"width":413,"height":44,"view":{"fill":"#cccccc","stroke":"#8a8a8a"},"data":{"values":[{"region":"Europe"}]},"mark":{"type":"text","fontSize":31.5,"font":"Liberation Sans","color":"#1a1a1a"},"encoding":{"text":{"field":"region"}}},
 {"width":413,"height":270,"data":{"name":"EU"},"transform":[{"lookup":"year","from":{"data":{"name":"enso"},"key":"year","fields":["phase"]},"default":"Neutral"}],"mark":"bar",
  "encoding":{
   "x":{"field":"year","type":"quantitative","scale":{"domain":[1901.85,2005.15],"nice":false,"zero":false},"axis":{"values":[1912.5,1925,1937.5,1950,1962.5,1975,1987.5,2000],"labels":false,"ticks":false,"title":null,"gridColor":{"condition":{"test":"datum.value % 25 != 0","value":"#f3f3f3"},"value":"#e6e6e6"}}},
   "y":{"field":"value","type":"quantitative","scale":{"domain":[-64.7,51.8],"nice":false,"zero":false},"axis":{"values":[-60,-45,-30,-15,0,15,30,45],"labelExpr":"datum.value % 30 == 0 ? datum.label : ''","labelOverlap":false,"tickOpacity":{"condition":{"test":"datum.value % 30 != 0","value":0},"value":1},"title":null,"gridColor":{"condition":{"test":"datum.value % 30 != 0","value":"#f3f3f3"},"value":"#e6e6e6"}}},
   "color":{"field":"phase","type":"nominal","scale":{"domain":["El Niño","La Niña","Neutral"],"range":["#f06c6a","#4a8fd4","#bebebe"]},"legend":null}}}
]},
{"spacing":0,"vconcat":[
 {"width":413,"height":44,"view":{"fill":"#cccccc","stroke":"#8a8a8a"},"data":{"values":[{"region":"Africa"}]},"mark":{"type":"text","fontSize":31.5,"font":"Liberation Sans","color":"#1a1a1a"},"encoding":{"text":{"field":"region"}}},
 {"width":413,"height":270,"data":{"name":"AF"},"transform":[{"lookup":"year","from":{"data":{"name":"enso"},"key":"year","fields":["phase"]},"default":"Neutral"}],"mark":"bar",
  "encoding":{
   "x":{"field":"year","type":"quantitative","scale":{"domain":[1901.85,2005.15],"nice":false,"zero":false},"axis":{"values":[1912.5,1925,1937.5,1950,1962.5,1975,1987.5,2000],"labels":false,"ticks":false,"title":null,"gridColor":{"condition":{"test":"datum.value % 25 != 0","value":"#f3f3f3"},"value":"#e6e6e6"}}},
   "y":{"field":"value","type":"quantitative","scale":{"domain":[-64.7,51.8],"nice":false,"zero":false},"axis":{"values":[-60,-45,-30,-15,0,15,30,45],"labels":false,"ticks":false,"title":null,"gridColor":{"condition":{"test":"datum.value % 30 != 0","value":"#f3f3f3"},"value":"#e6e6e6"}}},
   "color":{"field":"phase","type":"nominal","scale":{"domain":["El Niño","La Niña","Neutral"],"range":["#f06c6a","#4a8fd4","#bebebe"]},"legend":null}}}
]},
{"spacing":0,"vconcat":[
 {"width":413,"height":44,"view":{"fill":"#cccccc","stroke":"#8a8a8a"},"data":{"values":[{"region":"West/Central Asia"}]},"mark":{"type":"text","fontSize":31.5,"font":"Liberation Sans","color":"#1a1a1a"},"encoding":{"text":{"field":"region"}}},
 {"width":413,"height":270,"data":{"name":"WCA"},"transform":[{"lookup":"year","from":{"data":{"name":"enso"},"key":"year","fields":["phase"]},"default":"Neutral"}],"mark":"bar",
  "encoding":{
   "x":{"field":"year","type":"quantitative","scale":{"domain":[1901.85,2005.15],"nice":false,"zero":false},"axis":{"values":[1912.5,1925,1937.5,1950,1962.5,1975,1987.5,2000],"labels":false,"ticks":false,"title":null,"gridColor":{"condition":{"test":"datum.value % 25 != 0","value":"#f3f3f3"},"value":"#e6e6e6"}}},
   "y":{"field":"value","type":"quantitative","scale":{"domain":[-64.7,51.8],"nice":false,"zero":false},"axis":{"values":[-60,-45,-30,-15,0,15,30,45],"labels":false,"ticks":false,"title":null,"gridColor":{"condition":{"test":"datum.value % 30 != 0","value":"#f3f3f3"},"value":"#e6e6e6"}}},
   "color":{"field":"phase","type":"nominal","scale":{"domain":["El Niño","La Niña","Neutral"],"range":["#f06c6a","#4a8fd4","#bebebe"]},"legend":null}}}
]},
{"spacing":0,"vconcat":[
 {"width":413,"height":44,"view":{"fill":"#cccccc","stroke":"#8a8a8a"},"data":{"values":[{"region":"South Asia"}]},"mark":{"type":"text","fontSize":31.5,"font":"Liberation Sans","color":"#1a1a1a"},"encoding":{"text":{"field":"region"}}},
 {"width":413,"height":270,"data":{"name":"SAS"},"transform":[{"lookup":"year","from":{"data":{"name":"enso"},"key":"year","fields":["phase"]},"default":"Neutral"}],"mark":"bar",
  "encoding":{
   "x":{"field":"year","type":"quantitative","scale":{"domain":[1901.85,2005.15],"nice":false,"zero":false},"axis":{"values":[1912.5,1925,1937.5,1950,1962.5,1975,1987.5,2000],"labels":false,"ticks":false,"title":null,"gridColor":{"condition":{"test":"datum.value % 25 != 0","value":"#f3f3f3"},"value":"#e6e6e6"}}},
   "y":{"field":"value","type":"quantitative","scale":{"domain":[-64.7,51.8],"nice":false,"zero":false},"axis":{"values":[-60,-45,-30,-15,0,15,30,45],"labels":false,"ticks":false,"title":null,"gridColor":{"condition":{"test":"datum.value % 30 != 0","value":"#f3f3f3"},"value":"#e6e6e6"}}},
   "color":{"field":"phase","type":"nominal","scale":{"domain":["El Niño","La Niña","Neutral"],"range":["#f06c6a","#4a8fd4","#bebebe"]},"legend":null}}}
]},
{"spacing":0,"vconcat":[
 {"width":413,"height":44,"view":{"fill":"#cccccc","stroke":"#8a8a8a"},"data":{"values":[{"region":"East Asia"}]},"mark":{"type":"text","fontSize":31.5,"font":"Liberation Sans","color":"#1a1a1a"},"encoding":{"text":{"field":"region"}}},
 {"width":413,"height":270,"data":{"name":"EA"},"transform":[{"lookup":"year","from":{"data":{"name":"enso"},"key":"year","fields":["phase"]},"default":"Neutral"}],"mark":"bar",
  "encoding":{
   "x":{"field":"year","type":"quantitative","scale":{"domain":[1901.85,2005.15],"nice":false,"zero":false},"axis":{"values":[1912.5,1925,1937.5,1950,1962.5,1975,1987.5,2000],"format":"d","labelExpr":"datum.value % 25 == 0 ? datum.label : ''","labelOverlap":false,"labelFlush":false,"tickOpacity":{"condition":{"test":"datum.value % 25 != 0","value":0},"value":1},"title":null,"gridColor":{"condition":{"test":"datum.value % 25 != 0","value":"#f3f3f3"},"value":"#e6e6e6"}}},
   "y":{"field":"value","type":"quantitative","scale":{"domain":[-64.7,51.8],"nice":false,"zero":false},"axis":{"values":[-60,-45,-30,-15,0,15,30,45],"labelExpr":"datum.value % 30 == 0 ? datum.label : ''","labelOverlap":false,"tickOpacity":{"condition":{"test":"datum.value % 30 != 0","value":0},"value":1},"title":null,"gridColor":{"condition":{"test":"datum.value % 30 != 0","value":"#f3f3f3"},"value":"#e6e6e6"}}},
   "color":{"field":"phase","type":"nominal","scale":{"domain":["El Niño","La Niña","Neutral"],"range":["#f06c6a","#4a8fd4","#bebebe"]},"legend":null}}}
]},
{"spacing":0,"vconcat":[
 {"width":413,"height":44,"view":{"fill":"#cccccc","stroke":"#8a8a8a"},"data":{"values":[{"region":"Southeast Asia"}]},"mark":{"type":"text","fontSize":31.5,"font":"Liberation Sans","color":"#1a1a1a"},"encoding":{"text":{"field":"region"}}},
 {"width":413,"height":270,"data":{"name":"SEA"},"transform":[{"lookup":"year","from":{"data":{"name":"enso"},"key":"year","fields":["phase"]},"default":"Neutral"}],"mark":"bar",
  "encoding":{
   "x":{"field":"year","type":"quantitative","scale":{"domain":[1901.85,2005.15],"nice":false,"zero":false},"axis":{"values":[1912.5,1925,1937.5,1950,1962.5,1975,1987.5,2000],"format":"d","labelExpr":"datum.value % 25 == 0 ? datum.label : ''","labelOverlap":false,"labelFlush":false,"tickOpacity":{"condition":{"test":"datum.value % 25 != 0","value":0},"value":1},"title":null,"gridColor":{"condition":{"test":"datum.value % 25 != 0","value":"#f3f3f3"},"value":"#e6e6e6"}}},
   "y":{"field":"value","type":"quantitative","scale":{"domain":[-64.7,51.8],"nice":false,"zero":false},"axis":{"values":[-60,-45,-30,-15,0,15,30,45],"labels":false,"ticks":false,"title":null,"gridColor":{"condition":{"test":"datum.value % 30 != 0","value":"#f3f3f3"},"value":"#e6e6e6"}}},
   "color":{"field":"phase","type":"nominal","scale":{"domain":["El Niño","La Niña","Neutral"],"range":["#f06c6a","#4a8fd4","#bebebe"]},"legend":null}}}
]},
{"spacing":0,"vconcat":[
 {"width":413,"height":44,"view":{"fill":"#cccccc","stroke":"#8a8a8a"},"data":{"values":[{"region":"Oceania"}]},"mark":{"type":"text","fontSize":31.5,"font":"Liberation Sans","color":"#1a1a1a"},"encoding":{"text":{"field":"region"}}},
 {"width":413,"height":270,"data":{"name":"OC"},"transform":[{"lookup":"year","from":{"data":{"name":"enso"},"key":"year","fields":["phase"]},"default":"Neutral"}],"mark":"bar",
  "encoding":{
   "x":{"field":"year","type":"quantitative","scale":{"domain":[1901.85,2005.15],"nice":false,"zero":false},"axis":{"values":[1912.5,1925,1937.5,1950,1962.5,1975,1987.5,2000],"format":"d","labelExpr":"datum.value % 25 == 0 ? datum.label : ''","labelOverlap":false,"labelFlush":false,"tickOpacity":{"condition":{"test":"datum.value % 25 != 0","value":0},"value":1},"title":null,"gridColor":{"condition":{"test":"datum.value % 25 != 0","value":"#f3f3f3"},"value":"#e6e6e6"}}},
   "y":{"field":"value","type":"quantitative","scale":{"domain":[-64.7,51.8],"nice":false,"zero":false},"axis":{"values":[-60,-45,-30,-15,0,15,30,45],"labels":false,"ticks":false,"title":null,"gridColor":{"condition":{"test":"datum.value % 30 != 0","value":"#f3f3f3"},"value":"#e6e6e6"}}},
   "color":{"field":"phase","type":"nominal","scale":{"domain":["El Niño","La Niña","Neutral"],"range":["#f06c6a","#4a8fd4","#bebebe"]},"legend":null}}}
]},
{"spacing":0,"vconcat":[
 {"width":413,"height":44,"view":{"fill":"#cccccc","stroke":"#8a8a8a"},"data":{"values":[{"region":"Global"}]},"mark":{"type":"text","fontSize":31.5,"font":"Liberation Sans","color":"#1a1a1a"},"encoding":{"text":{"field":"region"}}},
 {"width":413,"height":270,"data":{"name":"GL"},"transform":[{"lookup":"year","from":{"data":{"name":"enso"},"key":"year","fields":["phase"]},"default":"Neutral"}],"mark":"bar",
  "encoding":{
   "x":{"field":"year","type":"quantitative","scale":{"domain":[1901.85,2005.15],"nice":false,"zero":false},"axis":{"values":[1912.5,1925,1937.5,1950,1962.5,1975,1987.5,2000],"format":"d","labelExpr":"datum.value % 25 == 0 ? datum.label : ''","labelOverlap":false,"labelFlush":false,"tickOpacity":{"condition":{"test":"datum.value % 25 != 0","value":0},"value":1},"title":null,"gridColor":{"condition":{"test":"datum.value % 25 != 0","value":"#f3f3f3"},"value":"#e6e6e6"}}},
   "y":{"field":"value","type":"quantitative","scale":{"domain":[-64.7,51.8],"nice":false,"zero":false},"axis":{"values":[-60,-45,-30,-15,0,15,30,45],"labels":false,"ticks":false,"title":null,"gridColor":{"condition":{"test":"datum.value % 30 != 0","value":"#f3f3f3"},"value":"#e6e6e6"}}},
   "color":{"field":"phase","type":"nominal","scale":{"domain":["El Niño","La Niña","Neutral"],"range":["#f06c6a","#4a8fd4","#bebebe"]},"legend":null}}}
]}
]},
{"width":1688,"height":40,"view":{"stroke":null},"data":{"values":[{"label":"Year"}]},"mark":{"type":"text","fontSize":31,"font":"Liberation Sans","color":"#000000"},"encoding":{"text":{"field":"label"}}}
]}
]
}
